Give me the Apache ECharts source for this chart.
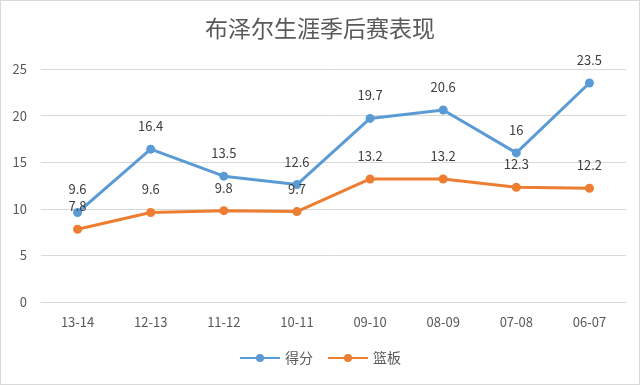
<!DOCTYPE html>
<html><head><meta charset="utf-8">
<script src="https://cdn.jsdelivr.net/npm/echarts@6/dist/echarts.min.js"></script>
<style>html,body{margin:0;padding:0;background:#fff}#c{width:638px;height:383px;border:1px solid #d9d9d9}</style>
</head><body><div id="c"></div>
<script>
var categories = ['13-14','12-13','11-12','10-11','09-10','08-09','07-08','06-07'];
var points = [9.6,16.4,13.5,12.6,19.7,20.6,16,23.5];
var rebounds = [7.8,9.6,9.8,9.7,13.2,13.2,12.3,12.2];
var yTicks = [0,5,10,15,20,25];
var font = "'Noto Sans CJK SC','Noto Sans',sans-serif";
var chart = echarts.init(document.getElementById('c'));
chart.setOption({
  animation:false,
  title:{text:'布泽尔生涯季后赛表现',left:'center',top:11,textStyle:{fontFamily:font,fontSize:23,fontWeight:'normal',color:'#595959'}},
  grid:{left:40,right:13,top:68,bottom:82},
  legend:{bottom:14,itemGap:14,itemWidth:40,itemHeight:10,textStyle:{fontFamily:font,fontSize:14,color:'#595959'},
    data:['得分','篮板']},
  xAxis:{type:'category',data:categories,boundaryGap:true,
    axisLine:{lineStyle:{color:'#d9d9d9'}},axisTick:{show:false},
    axisLabel:{fontFamily:font,fontSize:13,color:'#595959',margin:14}},
  yAxis:{type:'value',min:yTicks[0],max:yTicks[yTicks.length-1],interval:5,
    axisLine:{show:false},axisTick:{show:false},
    splitLine:{lineStyle:{color:'#d9d9d9'}},
    axisLabel:{fontFamily:font,fontSize:13,color:'#595959',margin:14}},
  series:[
    {name:'得分',type:'line',data:points,symbol:'circle',symbolSize:9,
     lineStyle:{width:3,color:'#5B9BD5'},itemStyle:{color:'#5B9BD5'},
     label:{show:true,position:'top',distance:12,fontFamily:font,fontSize:13,color:'#404040'}},
    {name:'篮板',type:'line',data:rebounds,symbol:'circle',symbolSize:9,
     lineStyle:{width:3,color:'#ED7D31'},itemStyle:{color:'#ED7D31'},
     label:{show:true,position:'top',distance:12,fontFamily:font,fontSize:13,color:'#404040'}}
  ]
});
</script></body></html>
